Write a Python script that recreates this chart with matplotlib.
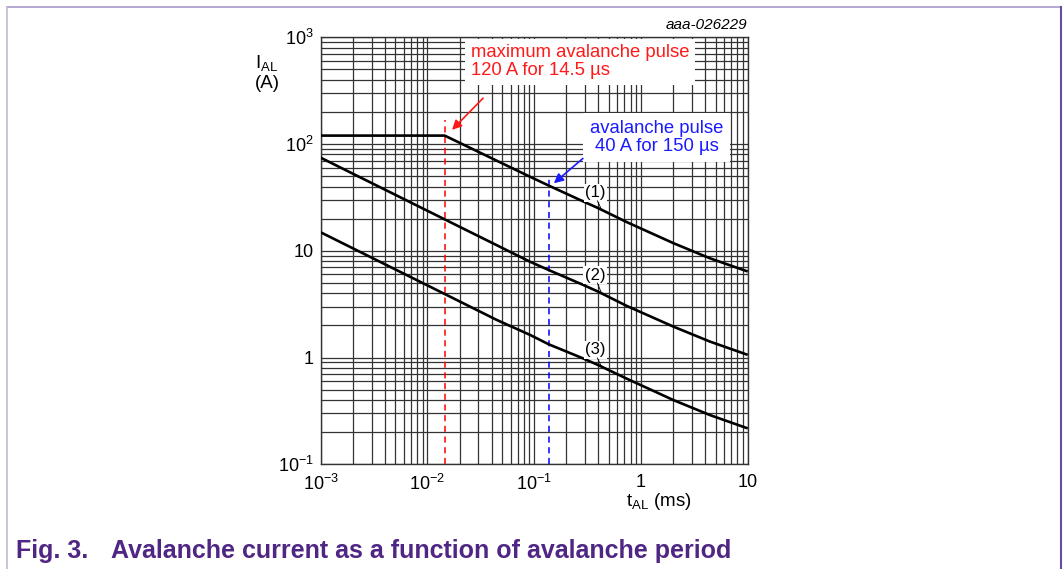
import matplotlib
matplotlib.use('Agg')
import matplotlib.pyplot as plt
import matplotlib.ticker as mticker
from matplotlib.lines import Line2D

plt.rcParams['font.family'] = ['Liberation Sans', 'DejaVu Sans']
plt.rcParams['mathtext.fontset'] = 'custom'
plt.rcParams['mathtext.rm'] = 'Liberation Sans'
plt.rcParams['mathtext.it'] = 'Liberation Sans:italic'

# curves (t in ms, I in A)
t1 = [0.001, 0.0145, 0.0914, 0.137, 0.288, 0.398, 0.734, 2.01, 4.44, 10.0]
i1 = [120, 120, 49.4, 40.8, 29.0, 25.1, 18.6, 11.8, 8.5, 6.4]
t2 = [0.001, 0.0145, 0.0914, 0.137, 0.288, 0.398, 0.734, 2.01, 4.44, 10.0]
i2 = [74.5, 19.7, 7.9, 6.6, 4.79, 4.14, 3.05, 1.95, 1.41, 1.06]
t3 = [0.001, 0.0145, 0.0446, 0.0914, 0.137, 0.288, 0.398, 0.734, 2.01, 4.44, 10.0]
i3 = [14.9, 3.94, 2.25, 1.63, 1.33, 0.98, 0.85, 0.635, 0.40, 0.289, 0.217]

curve_names = ['(1)', '(2)', '(3)']
label_pos = [(0.372, 35), (0.372, 5.93), (0.372, 1.18)]
leader_ends = [(0.43, 24.0), (0.43, 3.95), (0.43, 0.81)]

xticks = [1e-3, 1e-2, 1e-1, 1, 10]
xticklabels = ['10$^{-3}$', '10$^{-2}$', '10$^{-1}$', '1', '10']
yticks = [1e-1, 1, 10, 1e2, 1e3]
yticklabels = ['10$^{-1}$', '1', '10', '10$^{2}$', '10$^{3}$']

max_pulse_t, max_pulse_top = 0.0145, 168
pulse_t, pulse_top = 0.137, 49

W, H = 1063, 569
fig = plt.figure(figsize=(W / 100, H / 100), dpi=100)
ax = fig.add_axes([320.7 / W, 1 - 464.3 / H, 427 / W, 427 / H])

ax.set_xscale('log')
ax.set_yscale('log')
ax.set_xlim(1e-3, 10)
ax.set_ylim(0.1, 1000)

for a in (ax.xaxis, ax.yaxis):
    a.set_minor_locator(mticker.LogLocator(base=10, subs=range(2, 10), numticks=20))
    a.set_minor_formatter(mticker.NullFormatter())
ax.set_xticks(xticks)
ax.set_xticklabels(xticklabels)
ax.set_yticks(yticks)
ax.set_yticklabels(yticklabels)
ax.tick_params(which='both', length=0, labelsize=13)
ax.tick_params(axis='x', pad=7)
ax.tick_params(axis='y', pad=5)

ax.grid(which='both', color='#333333', lw=0.9, zorder=1)
ax.set_axisbelow(True)
for s in ax.spines.values():
    s.set_color('#333333')
    s.set_linewidth(1.0)

for tt, ii in [(t1, i1), (t2, i2), (t3, i3)]:
    ax.plot(tt, ii, color='black', lw=1.9, zorder=4, solid_capstyle='butt',
            solid_joinstyle='round')

# dashed markers
ax.plot([max_pulse_t, max_pulse_t], [0.1, max_pulse_top], color='#ff0000', lw=1.1,
        ls=(0, (4, 3)), zorder=3)
ax.plot([pulse_t, pulse_t], [0.1, pulse_top], color='#0000ff', lw=1.1,
        ls=(0, (4, 3)), zorder=3)

for name, (x, y), (x2, y2) in zip(curve_names, label_pos, leader_ends):
    ax.text(x, y, name, fontsize=12, ha='center', va='center',
            bbox=dict(facecolor='white', edgecolor='none', pad=1), zorder=5)
    ax.plot([x * 1.05, x2], [y * 0.84, y2], color='black', lw=0.6, zorder=5)

ax.text(0.0255, 590, 'maximum avalanche pulse\n120 A for 14.5 µs', color='#ff1a1a',
        fontsize=13.3, ha='left', va='center', linespacing=1.05,
        bbox=dict(facecolor='white', edgecolor='none', pad=4), zorder=5)
ax.annotate('', xy=(0.0163, 130), xytext=(0.0346, 281),
            arrowprops=dict(arrowstyle='-|>', color='#ff1a1a', lw=1.2, mutation_scale=14), zorder=5)

ax.text(1.40, 115, 'avalanche pulse\n40 A for 150 µs', color='#1a1aff',
        fontsize=13.3, ha='center', va='center', linespacing=1.05,
        bbox=dict(facecolor='white', edgecolor='none', pad=5), zorder=5)
ax.annotate('', xy=(0.146, 41.3), xytext=(0.299, 76.2),
            arrowprops=dict(arrowstyle='-|>', color='#1a1aff', lw=1.2, mutation_scale=14), zorder=5)

# axis titles
fig.text(255 / W, 1 - 63 / H, 'I$_{\\mathrm{AL}}$', fontsize=13.5, ha='left', va='center')
fig.text(255 / W, 1 - 84 / H, '(A)', fontsize=13.5, ha='left', va='center')
fig.text(626 / W, 1 - 501 / H, 't$_{\\mathrm{AL}}$ (ms)', fontsize=13.5, ha='left', va='center')
fig.text(747 / W, 1 - 25 / H, 'aaa-026229', fontsize=11, style='italic', ha='right', va='center')

# caption
purple = '#4f2683'
fig.text(16 / W, 1 - 551 / H, 'Fig. 3.', fontsize=18, weight='bold', color=purple, va='center')
fig.text(111 / W, 1 - 551 / H, 'Avalanche current as a function of avalanche period',
         fontsize=18, weight='bold', color=purple, va='center')

# frame
fig.add_artist(Line2D([7 / W, 1061 / W], [1 - 6.5 / H, 1 - 6.5 / H], color='#a898c8', lw=1.2))
fig.add_artist(Line2D([7 / W, 7 / W], [0, 1 - 6.5 / H], color='#c4b8dc', lw=1.2))
fig.add_artist(Line2D([1061 / W, 1061 / W], [0, 1 - 6.5 / H], color='#6a4c9c', lw=1.5))

fig.savefig('out.png', dpi=100)
